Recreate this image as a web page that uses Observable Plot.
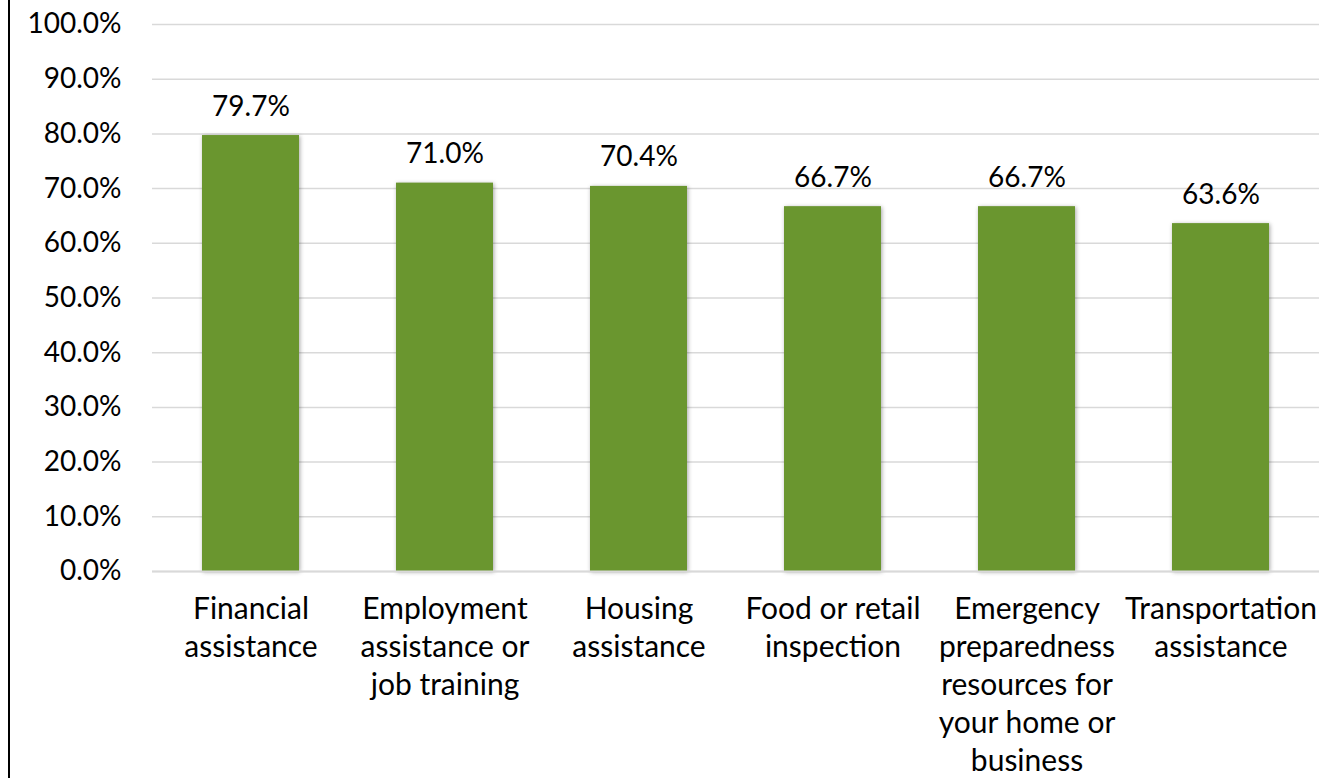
<!DOCTYPE html>
<html><head><meta charset="utf-8">
<script src="https://cdn.jsdelivr.net/npm/d3@7"></script>
<script src="https://cdn.jsdelivr.net/npm/@observablehq/plot@0.6"></script>
<style>
body{margin:0;background:#fff;}
#wrap{position:relative;width:1322px;height:778px;overflow:hidden;}
#border{position:absolute;left:8px;top:0;width:2px;height:778px;background:#000;}
#wrap svg{position:absolute;left:0;top:0;}
</style></head><body>
<div id="wrap"><div id="border"></div></div>
<script>
const categories = ["Financial assistance","Employment assistance or job training","Housing assistance","Food or retail inspection","Emergency preparedness resources for your home or business","Transportation assistance"];
const values = [79.7, 71.0, 70.4, 66.7, 66.7, 63.6];
const tickLabels = ["Financial\nassistance","Employment\nassistance or\njob training","Housing\nassistance","Food or retail\ninspection","Emergency\npreparedness\nresources for\nyour home or\nbusiness","Transportation\nassistance"];
const yTicks = [0,10,20,30,40,50,60,70,80,90,100];

const data = categories.map((c,i)=>({category:c, value:values[i]}));

const chart = Plot.plot({
  width:1322, height:778,
  marginLeft:152, marginRight:3, marginTop:24, marginBottom:207,
  style:{fontFamily:"Lato, 'Open Sans', sans-serif", fontSize:"28px", color:"#000", background:"transparent", overflow:"visible"},
  x:{domain:categories, paddingInner:0.5, paddingOuter:0.25, label:null},
  y:{domain:[0,100], label:null},
  marks:[
    Plot.gridY(yTicks,{stroke:"#d9d9d9", strokeOpacity:1, strokeWidth:1.5}),
    Plot.axisY(yTicks,{tickSize:0, tickPadding:31, tickFormat:d=>d.toFixed(1)+"%", fontSize:28, label:null}),
    Plot.axisX({tickSize:0, tickPadding:21, tickFormat:d=>tickLabels[categories.indexOf(d)], lineHeight:1.26, fontSize:30, label:null}),
    Plot.barY(data,{x:"category", y:"value", fill:"#6a962f"}),
    Plot.ruleY([0],{stroke:"#d9d9d9", strokeWidth:2}),
    Plot.text(data,{x:"category", y:"value", text:d=>d.value.toFixed(1)+"%", dy:-29, fontSize:28})
  ]
});
chart.querySelectorAll('g[aria-label="bar"] rect').forEach(r=>{r.style.filter="drop-shadow(1px 1px 2px rgba(0,0,0,0.35))";});
document.getElementById("wrap").appendChild(chart);
</script>
</body></html>
